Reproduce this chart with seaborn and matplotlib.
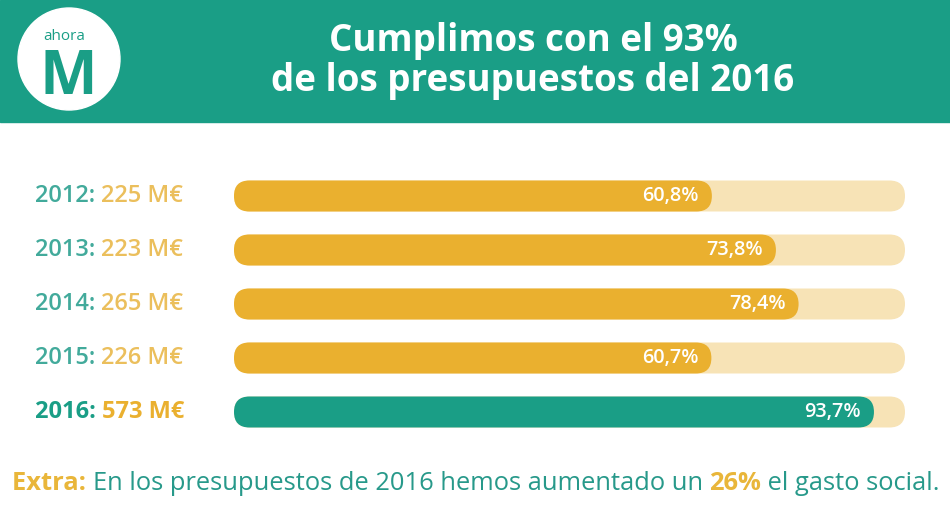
import pandas as pd
import matplotlib.pyplot as plt
import seaborn as sns
from matplotlib.patches import FancyBboxPatch, Rectangle, Circle

# Data
years = ["2012", "2013", "2014", "2015", "2016"]
budgets = ["225 M€", "223 M€", "265 M€", "226 M€", "573 M€"]
executed = [60.8, 73.8, 78.4, 60.7, 93.7]
pct_labels = ["60,8%", "73,8%", "78,4%", "60,7%", "93,7%"]

title_lines = ["Cumplimos con el 93%", "de los presupuestos del 2016"]
footer_parts = [("Extra: ", "orange", "bold"),
                ("En los presupuestos de 2016 hemos aumentado un ", "teal", "normal"),
                ("26%", "orange", "bold"),
                (" el gasto social.", "teal", "normal")]

# Colours
TEAL = "#1a9e86"
TEAL_TXT = "#42aa9b"
ORANGE = "#eab02f"
ORANGE_TXT = "#ebbf5c"
TRACK = "#f7e3b6"

TRACK_START = -36.2   # where the rounded track begins (axis units)

df = pd.DataFrame({"year": years, "executed": executed})

sns.set_theme(style="white")
plt.rcParams["font.family"] = ["Open Sans", "DejaVu Sans"]

fig = plt.figure(figsize=(9.5, 5.19), dpi=100)
W, H = 950, 519

# Header band
fig.patches.append(Rectangle((0, (H - 122) / H), 1, 122 / H, transform=fig.transFigure,
                             color=TEAL, zorder=0))
fig.text(533 / W, 1 - 41 / H, title_lines[0], color="white", fontsize=26.5,
         fontweight="bold", ha="center", va="center")
fig.text(533 / W, 1 - 81 / H, title_lines[1], color="white", fontsize=26.5,
         fontweight="bold", ha="center", va="center")

# Logo
fig.patches.append(Circle((0.69, (H - 59) / 100), 0.51, transform=fig.dpi_scale_trans,
                          color="white", zorder=1))
fig.text(64 / W, 1 - 36 / H, "ahora", color=TEAL, fontsize=11, ha="center", va="center",
         zorder=2)
fig.text(68 / W, 1 - 79 / H, "M", color=TEAL, fontsize=44, fontweight="bold",
         ha="center", va="center", zorder=2)

# Bars
ax = fig.add_axes([234 / W, 80 / H, 671 / W, 270 / H])
colors = [ORANGE] * 4 + [TEAL]
sns.barplot(data=df, x="executed", y="year", hue="year", palette=colors,
            legend=False, width=0.574, ax=ax)
ax.set_xlim(TRACK_START, 100)
ax.set_ylim(4.5, -0.5)
ax.axis("off")

xpp = (100 - TRACK_START) / 671
ypp = 5 / 270
r = 15.5 * xpp
asp = ypp / xpp

bars = list(ax.patches)
for i, p in enumerate(bars):
    y0, h = p.get_y(), p.get_height()
    end = p.get_x() + p.get_width()
    p.remove()
    ax.add_patch(FancyBboxPatch((TRACK_START, y0), 100 - TRACK_START, h,
                                boxstyle=f"round,pad=0,rounding_size={r}",
                                mutation_aspect=asp, color=TRACK, lw=0, zorder=1))
    ax.add_patch(FancyBboxPatch((TRACK_START, y0), end - TRACK_START, h,
                                boxstyle=f"round,pad=0,rounding_size={r}",
                                mutation_aspect=asp, color=colors[i], lw=0, zorder=2))
    ax.annotate(pct_labels[i], (end, y0 + h / 2), xytext=(-13, 0),
                textcoords="offset pixels", ha="right", va="center",
                color="white", fontsize=14.3, fontweight="semibold", zorder=3)

# Row labels
for i, (yr, b) in enumerate(zip(years, budgets)):
    last = i == len(years) - 1
    wt = "bold" if last else "semibold"
    c1 = TEAL if last else TEAL_TXT
    c2 = ORANGE if last else ORANGE_TXT
    t = fig.text(35 / W, 1 - (196 + 54 * i) / H, yr + ": ", color=c1, fontsize=17,
                 fontweight=wt, ha="left", va="center")
    ax.annotate(b, xy=(1, 0), xycoords=t, ha="left", va="bottom", color=c2,
                fontsize=17, fontweight=wt, annotation_clip=False)

# Footer
colmap = {"orange": "#e9b63a", "teal": "#27998a"}
prev = fig.text(12 / W, 1 - 483 / H, footer_parts[0][0], color=colmap[footer_parts[0][1]],
                fontsize=18.35, fontweight=footer_parts[0][2], ha="left", va="center")
for txt, col, wt in footer_parts[1:]:
    prev = ax.annotate(txt, xy=(1, 0), xycoords=prev, ha="left", va="bottom",
                       color=colmap[col], fontsize=18.35, fontweight=wt,
                       annotation_clip=False)

fig.savefig("out.png", dpi=100)
